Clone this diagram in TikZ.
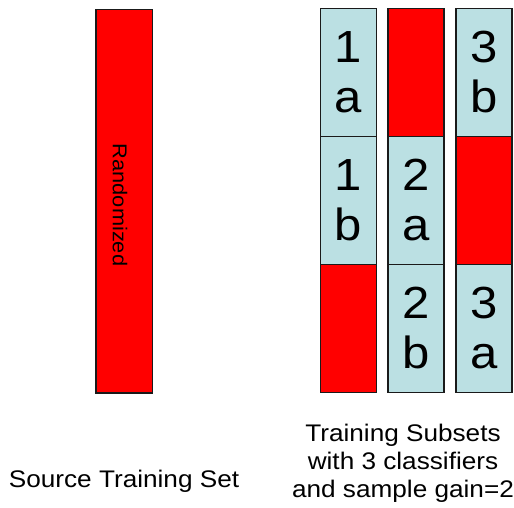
\documentclass[tikz,border=0pt]{standalone}
\usepackage{fontspec}
\setmainfont[FakeStretch=1.09]{Liberation Sans}
\definecolor{cellblue}{HTML}{BBE0E3}
\definecolor{cellred}{HTML}{FF0000}
\definecolor{edge}{HTML}{1A1A1A}
\begin{document}
\begin{tikzpicture}[x=1pt,y=-1pt,
  cellbase/.style={draw=edge, line width=1.5pt, inner sep=0pt, outer sep=0pt,
    anchor=north west, align=center, minimum width=56pt, minimum height=128pt,
    font=\fontsize{45}{50}\selectfont},
  subsetcell/.style={cellbase, fill=cellblue},
  dropcell/.style={cellbase, fill=cellred},
  caption/.style={inner sep=0pt, align=center, font=\fontsize{24}{27.7}\selectfont}
]
\useasboundingbox (0,0) rectangle (514,507);

% source training set
\node[draw=edge, line width=1.5pt, fill=cellred, anchor=north west,
      minimum width=56.5pt, minimum height=383.5pt, inner sep=0pt] (src) at (95,8.5) {};
\node[rotate=-90, inner sep=0pt, font=\fontsize{20}{24}\selectfont] (rnd) at (120,205) {Randomized};

% subset columns
\node[subsetcell] (c1r1) at (320.5,8.5) {1\\a};
\node[subsetcell] (c1r2) at (320.5,136.5) {1\\b};
\node[dropcell]   (c1r3) at (320.5,264.5) {};

\node[dropcell]   (c2r1) at (388,8.5) {};
\node[subsetcell] (c2r2) at (388,136.5) {2\\a};
\node[subsetcell] (c2r3) at (388,264.5) {2\\b};

\node[subsetcell] (c3r1) at (456,8.5) {3\\b};
\node[dropcell]   (c3r2) at (456,136.5) {};
\node[subsetcell] (c3r3) at (456,264.5) {3\\a};

% captions
\node[caption, anchor=base] (srccap) at (124,487) {Source Training Set};
\node[caption, anchor=north] (subcap) at (403,424) {Training Subsets\\with 3 classifiers\\and sample gain=2};
\end{tikzpicture}
\end{document}
